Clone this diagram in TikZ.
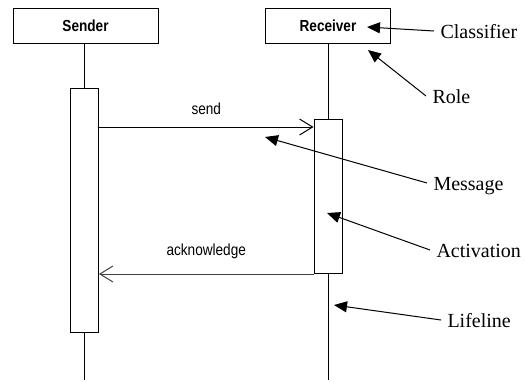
\documentclass[tikz,border=0pt]{standalone}
\usepackage{fontspec}
\setmainfont{Liberation Serif}
\newfontfamily\umlfont[FakeStretch=0.85]{Liberation Sans}
\usetikzlibrary{positioning, arrows.meta}

\begin{document}
\begin{tikzpicture}[
  x=1pt, y=-1pt, line width=1pt,
  classbox/.style={draw,minimum height=35pt,inner sep=0pt,font=\umlfont\bfseries\fontsize{16}{18}\selectfont},
  activation/.style={draw,fill=white,minimum width=28pt,inner sep=0pt},
  msg/.style={-{Straight Barb[length=13pt,width=16pt]}},
  msglabel/.style={font=\umlfont\fontsize{16}{18}\selectfont,inner sep=0pt,text=black},
  note/.style={font=\fontsize{20}{22}\selectfont,anchor=base west,inner xsep=6pt,inner ysep=0pt,text height=14pt,text depth=0pt},
  pointer/.style={-{Triangle[length=13pt,width=11pt]}},
]
\useasboundingbox (0,0) rectangle (527,381);

% classifier roles
\node[classbox,minimum width=145pt] (sender) at (85.5,25.5) {Sender};
\node[classbox,minimum width=125pt] (receiver) at (328,25.5) {Receiver};

% activations
\node[activation,minimum height=244pt,anchor=north] (act1) at (84.5,88) {};
\node[activation,minimum height=154pt,anchor=north] (act2) at (328,119) {};

% lifelines
\coordinate (end1) at (act1.south |- 0,380);
\coordinate (end2) at (act2.south |- 0,380);
\draw (sender.south -| act1.north) -- (act1.north);
\draw (act1.south) -- (end1);
\draw (receiver.south -| act2.north) -- (act2.north);
\draw (act2.south) -- (end2);

% messages
\coordinate (sendy) at ([yshift=-39pt]act1.north east);
\draw[msg] (sendy) -- node[msglabel,above=12pt] {send} (sendy -| act2.west);
\draw[msg,draw=black!75] (act2.south west) -- node[msglabel,above=15pt] {acknowledge} (act2.south west -| act1.east);

% annotations
\node[note] (cls) at (434,38) {Classifier};
\node[note] (role) at (426,103) {Role};
\node[note] (mesg) at (427,190) {Message};
\node[note] (actv) at (430,257) {Activation};
\node[note] (life) at (441,327) {Lifeline};

\coordinate (clsTip) at (367,27);
\coordinate (roleTip) at (368,50);
\coordinate (mesgTip) at (265,137);
\coordinate (actvTip) at (327,213);
\coordinate (lifeTip) at (334,305);

\draw[pointer] (cls.west) -- (clsTip);
\draw[pointer] (role.west) -- (roleTip);
\draw[pointer] (mesg.west) -- (mesgTip);
\draw[pointer] (actv.west) -- (actvTip);
\draw[pointer] (life.west) -- (lifeTip);

\end{tikzpicture}
\end{document}
